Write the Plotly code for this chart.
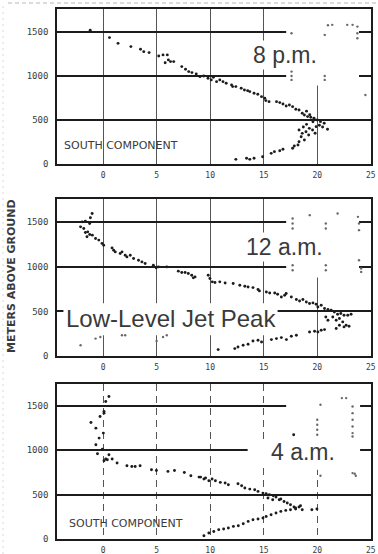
import plotly.graph_objects as go

W, H = 378, 554

# ---------------- data (wind speed, m/s ; height, m) ----------------
pm8_speed = [-1.2, 0.6, 1.4, 2.6, 3.5, 3.8, 4.3, 5.2, 5.6, 6.0, 5.8, 6.3, 6.6, 6.1, 7.35, 7.7, 8.0, 8.3,
             8.7, 9.05, 9.4, 9.8, 10.1, 10.3, 10.6, 10.9, 11.2, 11.5, 12.0, 12.1, 12.4, 12.9, 13.2, 13.5,
             13.7, 14.1, 14.45, 14.8, 15.1, 15.2, 15.5, 16.2, 16.5, 16.8, 17.1, 17.4, 17.7, 18.0, 18.3,
             18.6, 18.8, 19.1, 19.4, 19.7, 20.0, 20.3, 20.65, 20.96, 19.0, 19.3, 19.6, 20.2, 20.5,
             19.9, 19.56, 19.26, 18.95, 18.6, 18.3, 18.5, 18.8, 18.3, 18.2, 17.86, 17.7, 16.8, 16.5,
             16.0, 15.7, 14.9, 14.1, 13.7, 13.4, 12.4, 19.0, 18.7, 19.8, 19.2]
pm8_height = [1520, 1435, 1370, 1333, 1303, 1276, 1265, 1227, 1239, 1239, 1150, 1163, 1163, 1182, 1106,
              1076, 1049, 1038, 1023, 992, 1000, 973, 955, 985, 935, 955, 935, 917, 898, 879, 879, 860,
              841, 833, 822, 803, 792, 765, 746, 720, 708, 708, 697, 682, 659, 670, 651, 621, 614, 576,
              557, 538, 530, 519, 500, 481, 462, 394, 600, 560, 480, 440, 420,
              424, 386, 405, 367, 348, 386, 310, 273, 253, 216, 205, 178, 167, 151,
              140, 121, 83, 65, 53, 65, 53, 450, 420, 350, 330]

am12_speed = [-1.95, -1.65, -1.18, -1.02, -1.25, -2.1, -1.8, -1.65, -1.43, -1.25, -1.5, -1.0, -0.7, -0.4,
              -0.1, 0.06, 0.84, 0.99, 1.14, 1.6, 1.77, 2.07, 2.23, 2.54, 2.85, 3.31, 3.63, 3.93, 4.7,
              4.96, 5.17, 5.95, 7.03, 7.35, 7.66, 7.96, 8.28, 8.59, 8.43, 9.82, 9.98, 10.2, 10.45,
              10.9, 11.4, 12.15, 12.77, 13.24, 13.54, 14.0, 14.47, 14.6, 15.25, 15.56, 16.03, 16.3,
              16.65, 16.96, 17.1, 17.58, 18.05, 18.35, 18.66, 18.98, 19.28, 19.6, 19.9, 20.06, 20.37,
              20.68, 21.0, 21.3, 21.6, 21.9, 22.2, 22.5, 22.85, 23.16, 21.45, 21.77, 22.07, 22.38,
              22.7, 22.07, 21.77, 22.5, 22.97, 21.0, 20.8,
              10.75, 12.3, 12.6, 13.08, 13.54, 14.0, 14.47, 14.8, 15.72, 16.19, 16.65, 17.12, 17.58,
              18.05, 19.28, 19.75, 20.37, 20.68, 20.06]
am12_height = [1504, 1512, 1549, 1598, 1486, 1448, 1430, 1385, 1392, 1362, 1336, 1355, 1318, 1299,
               1262, 1242, 1212, 1186, 1167, 1149, 1167, 1130, 1111, 1130, 1093, 1074, 1055, 1037, 1018,
               988, 999, 999, 951, 936, 936, 925, 906, 887, 876, 906, 869, 831, 824,
               831, 819, 812, 793, 782, 774, 767, 745, 730, 718, 707, 707, 692,
               662, 681, 700, 662, 633, 617, 633, 606, 588, 595, 580, 550, 569,
               532, 521, 513, 494, 468, 476, 457, 457, 468, 438, 401, 420, 382,
               345, 345, 308, 326, 334, 401, 438,
               72, 83, 101, 120, 131, 168, 176, 157, 184, 195, 206, 184, 221,
               232, 269, 277, 288, 296, 269]

am4_speed = [0.55, 0.25, 0.09, 0.09, -0.28, -1.13, -0.67, 0.03, -0.37, -0.67, -0.06, -0.52, 0.55, 0.25,
             0.09, 0.4, 0.85, 1.31, 2.23, 2.69, 3.0, 3.46, 4.52, 4.98, 6.06, 6.67, 7.59, 8.2, 8.96, 9.57,
             9.11, 9.42, 9.88, 10.18, 10.49, 10.95, 11.4, 11.7, 12.6, 12.94, 13.24, 13.7, 14.16, 14.47,
             14.93, 15.23, 15.53, 15.9, 16.15, 16.45, 16.6, 16.9, 17.2, 17.5, 17.83, 17.98, 18.3, 18.44,
             18.6, 15.84, 15.4,
             9.42, 9.88, 10.34, 10.8, 11.26, 11.7, 12.17, 12.63, 13.09, 13.55, 14.0, 14.47, 14.93,
             15.23, 15.69, 16.15, 16.6, 17.06, 17.5, 17.98, 19.5, 19.97, 17.8]
am4_height = [1604, 1548, 1435, 1417, 1379, 1312, 1248, 1192, 1136, 1061, 1012, 960, 948, 900,
              881, 892, 900, 855, 825, 817, 817, 825, 780, 772, 761, 772, 749, 712, 697, 686,
              697, 675, 656, 675, 656, 637, 630, 611, 622, 600, 574, 562, 555, 536,
              517, 510, 498, 487, 472, 442, 450, 423, 405, 386, 360, 337, 360, 375,
              330, 442, 461,
              37, 67, 85, 105, 112, 124, 142, 150, 172, 198, 217, 225, 236,
              254, 273, 292, 311, 322, 330, 349, 330, 337, 1174]

# faint specks left on the scanned copy
pm8_speck_x = [17.6, 17.6, 17.6, 17.6, 20.7, 20.7, 20.7, 23.75, 23.75, 23.75, 22.8, 23.3, 21.4, 21.0, 24.5]
pm8_speck_y = [1485, 1049, 1000, 955, 1466, 1000, 955, 1560, 1485, 1428, 1580, 1580, 1580, 1575, 784]
am12_speck_x = [17.7, 17.7, 17.7, 20.8, 20.8, 17.7, 17.7, 20.8, 20.8, 23.9, 24.1, 24.1, 21.9, 23.8, 23.9,
                23.9, 19.3, -2.1, -0.7, -0.25, 1.77, 2.07, 5.0, 5.6, 5.95]
am12_speck_y = [1542, 1486, 1430, 1486, 1430, 1018, 962, 1018, 962, 1074, 981, 943, 1598, 1560, 1486,
                1411, 1579, 120, 195, 213, 232, 232, 168, 213, 232]
am4_speck_x = [20.3, 22.3, 22.7, 23.3, 23.3, 23.3, 23.3, 23.3, 23.3, 20.0, 20.0, 20.0, 20.0, 20.3,
               23.3, 23.5, 23.6]
am4_speck_y = [1511, 1586, 1586, 1492, 1417, 1342, 1267, 1192, 1154, 1342, 1286, 1230, 1174, 712,
               742, 734, 712]

x_ticks = [0, 5, 10, 15, 20, 25]
x_tick_text = ["0", "5", "10", "15", "20", "25"]
y_ticks = [0, 500, 1000, 1500]
y_tick_text = ["0", "500", "1000", "1500"]

panel_titles = ["8 p.m.", "12 a.m.", "4 a.m."]
south_label = "SOUTH COMPONENT"
jet_label = "Low-Level Jet Peak"
y_title = "METERS ABOVE GROUND"

# ---------------- layout helpers ----------------
def px_x(p):
    return p / W

def px_y(p):
    return 1 - p / H

INK = "#1c1c1c"
TXT = "#3a3a3a"
X_RANGE = [-4.3, 25.02]
x_dom = [px_x(57), px_x(371)]
y_doms = [[px_y(164), px_y(9)], [px_y(356), px_y(199)], [px_y(539), px_y(384)]]
y_tops = [1760, 1760, 1745]

fig = go.Figure()

series = [(pm8_speed, pm8_height, pm8_speck_x, pm8_speck_y),
          (am12_speed, am12_height, am12_speck_x, am12_speck_y),
          (am4_speed, am4_height, am4_speck_x, am4_speck_y)]

for i, (sx, sy, nx, ny) in enumerate(series):
    ax = "" if i == 0 else str(i + 1)
    fig.add_trace(go.Scatter(x=nx, y=ny, mode="markers", xaxis="x" + ax, yaxis="y" + ax,
                             marker=dict(size=2.4, color="#6a6a6a"), showlegend=False, hoverinfo="skip",
                             cliponaxis=True))
    fig.add_trace(go.Scatter(x=sx, y=sy, mode="markers", xaxis="x" + ax, yaxis="y" + ax,
                             marker=dict(size=2.9, color=INK), showlegend=False,
                             cliponaxis=True))

axis_common = dict(showline=True, linecolor=INK, linewidth=1.6, mirror=True, zeroline=False,
                   ticks="", fixedrange=True, ticklabeloverflow="allow", automargin=False)

layout = dict(width=W, height=H, margin=dict(l=0, r=0, t=0, b=0, autoexpand=False),
              paper_bgcolor="white", plot_bgcolor="white", showlegend=False)

for i in range(3):
    ax = "" if i == 0 else str(i + 1)
    xk = "xaxis" + ax
    yk = "yaxis" + ax
    layout[xk] = dict(axis_common, domain=x_dom, range=X_RANGE, anchor="y" + ax,
                      tickvals=x_ticks, ticktext=x_tick_text,
                      tickfont=dict(family="DejaVu Sans Mono", size=8, color=TXT),
                      showgrid=True, gridcolor="#555555", gridwidth=1,
                      griddash=("7px,5px" if i == 2 else "solid"),
                      ticklabelstandoff=3)
    layout[yk] = dict(axis_common, domain=y_doms[i], range=[0, y_tops[i]], anchor="x" + ax,
                      tickvals=y_ticks, ticktext=y_tick_text,
                      tickfont=dict(family="DejaVu Sans Mono", size=9, color=TXT),
                      showgrid=True, gridcolor=INK, gridwidth=1.6,
                      ticklabelstandoff=5)

fig.update_layout(**layout)

# white patches pasted over the scan (between grid and points)
patches = [(0, 17.1, 23.9, 890, 1760),
           (1, 17.1, 23.9, 880, 1760),
           (1, -3.7, 16.3, 232, 591),
           (2, 17.1, 24.0, 780, 1745),
           (2, 13.5, 17.1, 800, 1090)]
for (i, x0, x1, y0, y1) in patches:
    ax = "" if i == 0 else str(i + 1)
    fig.add_shape(type="rect", xref="x" + ax, yref="y" + ax, x0=x0, x1=x1, y0=y0, y1=y1,
                  fillcolor="white", line=dict(width=0), layer="between")

# scan edges
fig.add_shape(type="line", xref="paper", yref="paper", x0=px_x(8), x1=1, y0=px_y(3), y1=px_y(3),
              line=dict(color="#b8b8b8", width=1.2, dash="4px,3px"))
fig.add_shape(type="line", xref="paper", yref="paper", x0=px_x(3), x1=px_x(3), y0=0, y1=px_y(4),
              line=dict(color="#d8d8d8", width=1, dash="2px,4px"))

big = dict(family="Liberation Sans, Arial", size=23, color=TXT)
title_pos = [(285, 55), (284.5, 247), (303, 452)]
for t, (cx, cy) in zip(panel_titles, title_pos):
    fig.add_annotation(text=t, x=px_x(cx), y=px_y(cy), xref="paper", yref="paper",
                       showarrow=False, font=big, xanchor="center", yanchor="middle",
                       bgcolor="white", borderpad=1)

fig.add_annotation(text=jet_label, x=px_x(171), y=px_y(318), xref="paper", yref="paper",
                   showarrow=False, font=dict(family="Liberation Sans, Arial", size=24, color=TXT),
                   xanchor="center", yanchor="middle")

small = dict(family="DejaVu Sans", size=11, color=TXT)
for (cx, cy) in [(121, 146), (126, 523)]:
    fig.add_annotation(text=south_label, x=px_x(cx), y=px_y(cy), xref="paper", yref="paper",
                       showarrow=False, font=small, xanchor="center", yanchor="middle")

fig.add_annotation(text=y_title, x=px_x(11), y=px_y(276), xref="paper", yref="paper",
                   showarrow=False, textangle=-90,
                   font=dict(family="DejaVu Sans", size=11, color=TXT, weight="bold"),
                   xanchor="center", yanchor="middle")

# the page's default 8px body margin would shift the whole figure; remove it
fig.write_html("out.html", config={"displayModeBar": False},
               post_script="document.body.style.margin='0px';")
